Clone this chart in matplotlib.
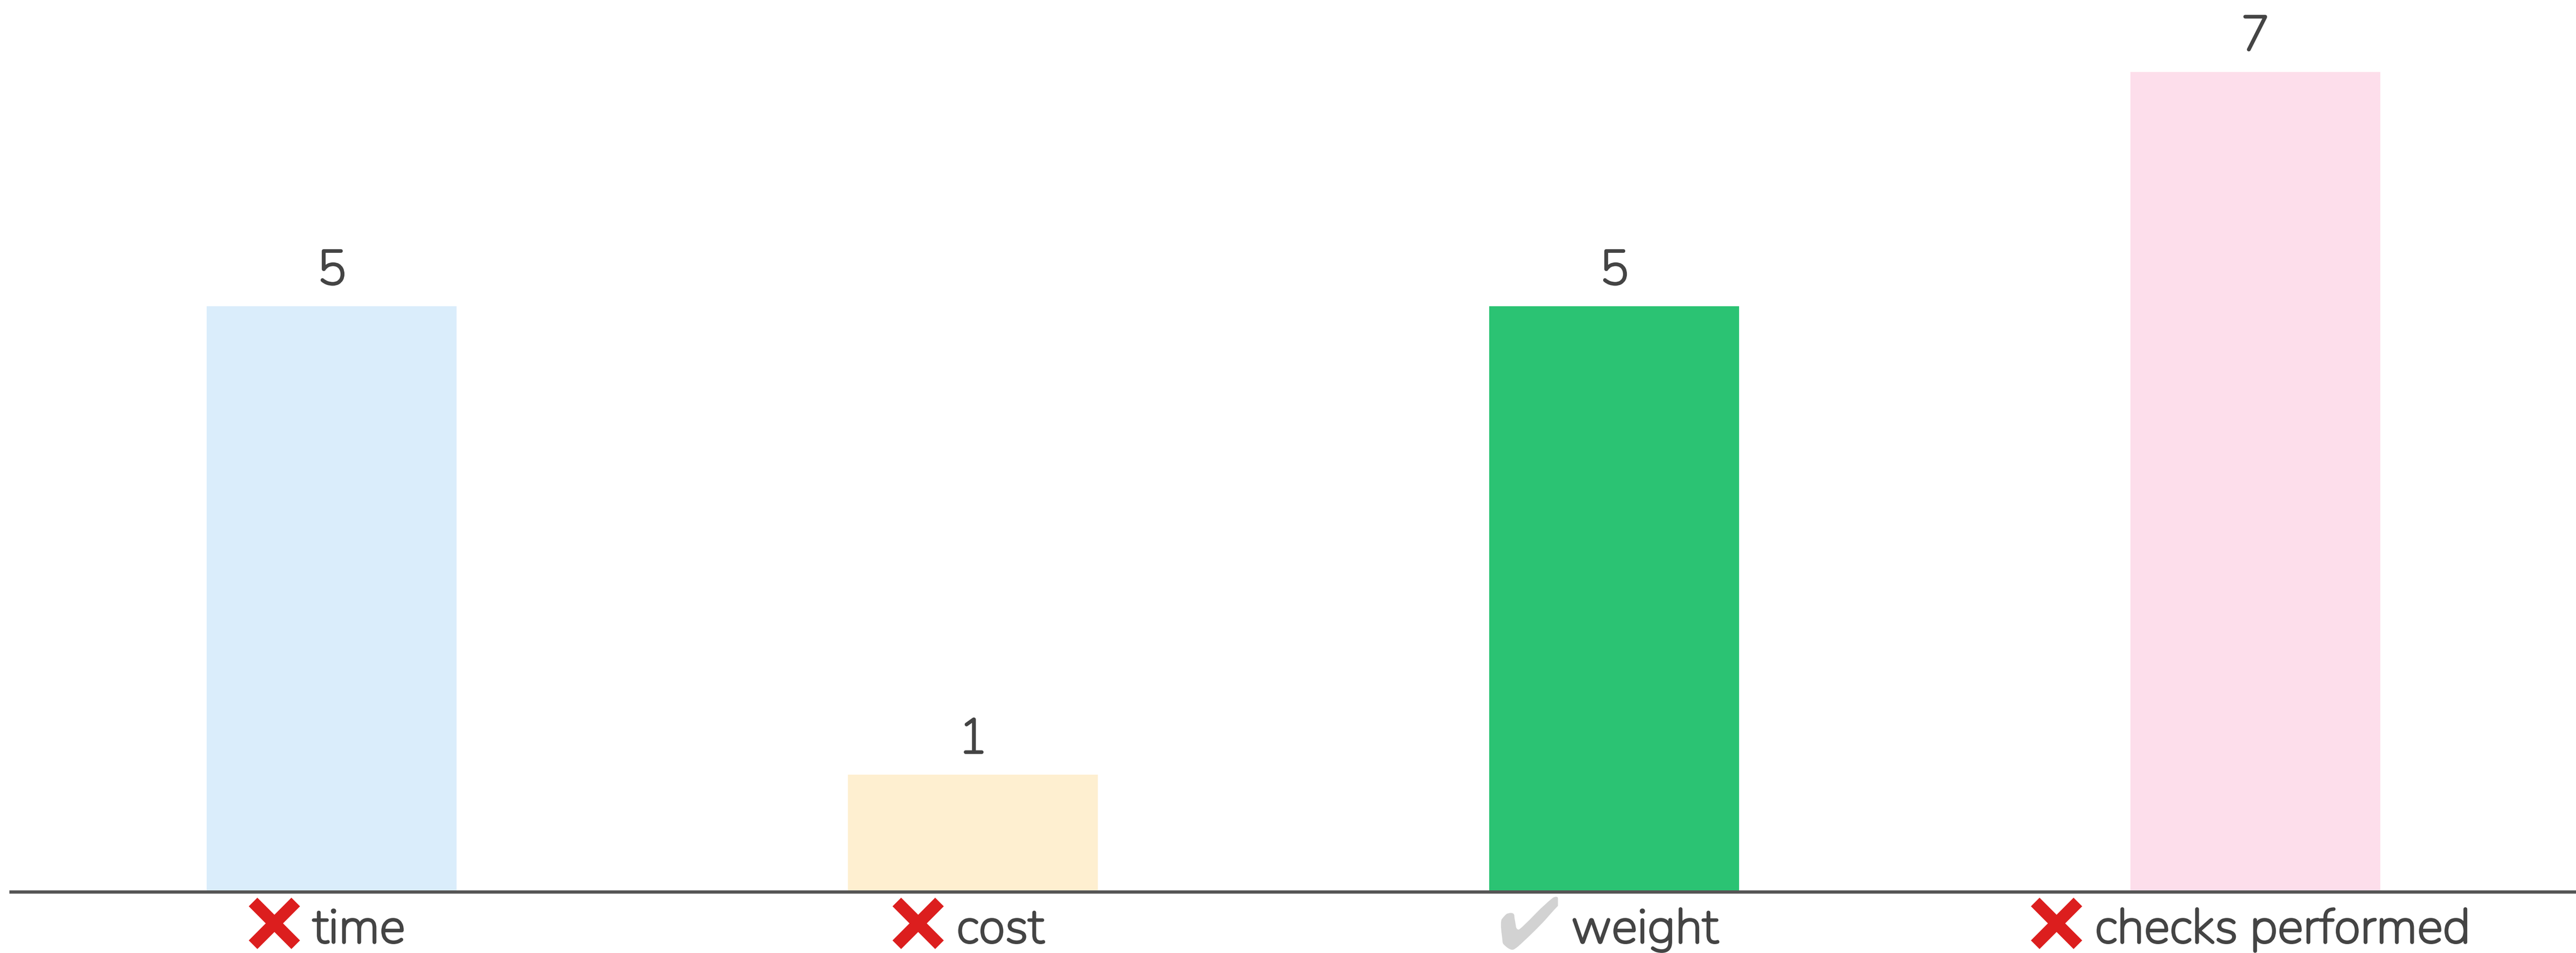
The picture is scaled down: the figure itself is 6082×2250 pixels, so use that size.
# -*- coding: utf-8 -*-
import matplotlib

matplotlib.use('Agg')
import matplotlib.pyplot as plt
import matplotlib.patheffects as pe
from matplotlib.offsetbox import AnnotationBbox, HPacker, TextArea

categories = ['time', 'cost', 'weight', 'checks performed']
marks = ['\u274c', '\u274c', '\u2714', '\u274c']
mark_colors = ['#dc1e1e', '#dc1e1e', '#d2d2d2', '#dc1e1e']
values = [5, 1, 5, 7]
bar_colors = ['#daedfb', '#feefd0', '#2bc373', '#fddeeb']

plt.rcParams['font.family'] = ['Nunito', 'Lato', 'DejaVu Sans']

fig = plt.figure(figsize=(60.82, 22.5), dpi=100)
ax = fig.add_axes([26 / 6082, 144 / 2250, 1 - 26 / 6082, 2106 / 2250])

# the variable font loads at its lightest weight, so thicken it a little
heavier = [pe.withStroke(linewidth=3, foreground='#444444')]

ind = list(range(len(categories)))
ax.bar(ind, values, 0.39, color=bar_colors, zorder=1)
ax.set_xlim(-0.5, 3.5)
ax.set_ylim(0, 7.614)

for a, b in zip(ind, values):
    ax.annotate('%.0f' % b, (a, b), xytext=(0, 37), textcoords='offset points',
                ha='center', va='baseline', fontsize=83, color='#444444',
                path_effects=heavier)

for a, name, mark, col in zip(ind, categories, marks, mark_colors):
    # the icon sits a bit lower than the label's baseline
    lowered = [pe.PathPatchEffect(offset=(0, -10), facecolor=col, edgecolor='none')]
    icon = TextArea(mark, textprops=dict(fontsize=125, color=col, family=['FreeSans', 'DejaVu Sans'],
                                         path_effects=lowered))
    # trailing space keeps the label a little left of the tick, as in the original
    label = TextArea(name + ' ', textprops=dict(fontsize=83, color='#444444', path_effects=heavier))
    box = HPacker(children=[icon, label], align='baseline', pad=0, sep=18)
    ab = AnnotationBbox(box, (a, 0), xybox=(0, 5), xycoords='data', boxcoords='offset points',
                        box_alignment=(0.5, 1), frameon=False, annotation_clip=False)
    ax.add_artist(ab)

ax.set_xticks([])
ax.set_yticks([])
for side in ['top', 'left', 'right']:
    ax.spines[side].set_visible(False)
ax.spines['bottom'].set_linewidth(5.5)
ax.spines['bottom'].set_color('#555555')
ax.spines['bottom'].set_zorder(3)

fig.savefig('out.png', dpi=100)
